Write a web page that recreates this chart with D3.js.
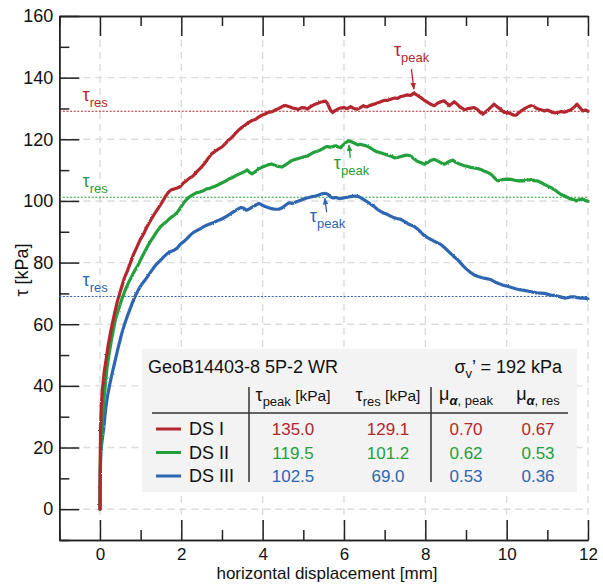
<!DOCTYPE html>
<html>
<head>
<meta charset="utf-8">
<script src="https://cdn.jsdelivr.net/npm/d3@7"></script>
<style>
  body { margin: 0; background: #fff; }
  svg { display: block; font-family: "Liberation Sans", Arial, Helvetica, sans-serif; }
</style>
</head>
<body>
<svg id="chart" width="603" height="584"></svg>
<script>
// ---- data ----
const seriesNames = ["DS I", "DS II", "DS III"];
const seriesColors = ["#b3272d", "#22a03b", "#2d66b1"];
const tauPeak = [135.0, 119.5, 102.5];
const tauRes = [129.1, 101.2, 69.0];
const muPeak = ["0.70", "0.62", "0.53"];
const muRes = ["0.67", "0.53", "0.36"];
const peakDisp = [7.72, 6.12, 5.53];
const sampleName = "GeoB14403-8 5P-2 WR";
const normalStress = "192 kPa";

const xMajorTicks = [0, 2, 4, 6, 8, 10, 12];
const xMinorTicks = [-1, 1, 3, 5, 7, 9, 11];
const yMajorTicks = [0, 20, 40, 60, 80, 100, 120, 140, 160];
const yMinorTicks = [-10, 10, 30, 50, 70, 90, 110, 130, 150];
const xGrid = [0, 2, 4, 6, 8, 10, 12];
const yGrid = [0, 20, 40, 60, 80, 100, 120, 140];

// [displacement mm, shear stress kPa]
const dsI = [
  [0,0],[0.003,8],[0.008,18],[0.015,26],[0.03,33],[0.06,39],[0.1,44],[0.15,48.5],[0.2,53],[0.27,58],
  [0.35,63],[0.43,67.5],[0.52,71.5],[0.6,75],[0.68,77.5],[0.75,80],[0.82,82.5],[0.9,84.8],[0.98,87.2],[1.07,89.2],
  [1.15,91.5],[1.25,93.8],[1.35,96.0],[1.45,98.0],[1.53,99.6],[1.6,101.2],[1.68,102.8],[1.75,103.6],[1.82,103.9],[1.9,104.2],
  [1.97,104.6],[2.05,105.8],[2.12,106.5],[2.2,107.4],[2.28,108.0],[2.35,109.0],[2.42,110.0],[2.5,111.0],[2.58,112.3],[2.66,113.8],
  [2.74,115.2],[2.82,116.0],[2.9,116.7],[3.0,117.5],[3.08,118.6],[3.16,119.7],[3.25,120.7],[3.33,121.9],[3.42,123.1],[3.5,124.0],
  [3.58,124.7],[3.66,125.5],[3.74,126.1],[3.82,126.4],[3.9,127.2],[3.98,127.8],[4.06,128.2],[4.15,128.8],[4.24,129.0],[4.32,129.6],
  [4.4,130.0],[4.48,130.6],[4.56,131.0],[4.64,130.6],[4.72,130.2],[4.8,130.0],[4.88,129.7],[4.96,130.3],[5.04,130.2],[5.1,129.8],
  [5.18,130.6],[5.26,131.2],[5.34,131.6],[5.42,132.0],[5.5,132.3],[5.55,132.4],[5.6,131.5],[5.66,129.6],[5.72,128.7],[5.78,129.3],
  [5.86,129.9],[5.94,130.2],[6.0,130.3],[6.08,129.9],[6.16,130.6],[6.24,130.0],[6.33,129.8],[6.4,130.3],[6.48,130.9],[6.56,130.5],
  [6.64,131.0],[6.74,131.4],[6.82,131.8],[6.9,132.2],[6.98,132.6],[7.06,132.6],[7.15,133.0],[7.24,133.4],[7.32,133.3],[7.4,133.9],
  [7.48,134.1],[7.56,134.4],[7.64,134.2],[7.72,135.0],[7.8,134.3],[7.88,133.6],[7.96,132.8],[8.02,132.3],[8.1,131.6],[8.16,131.2],
  [8.22,130.9],[8.3,131.7],[8.38,132.2],[8.46,132.5],[8.53,131.7],[8.59,130.9],[8.65,131.5],[8.71,132.2],[8.78,131.4],[8.86,130.4],
  [8.96,129.6],[9.04,129.9],[9.12,130.1],[9.2,130.3],[9.28,129.7],[9.36,128.6],[9.41,128.1],[9.48,128.8],[9.56,129.8],[9.63,130.6],
  [9.69,131.4],[9.76,130.6],[9.84,129.8],[9.94,128.7],[10.02,128.7],[10.1,128.3],[10.18,127.8],[10.23,127.8],[10.3,128.6],[10.38,129.4],
  [10.46,130.1],[10.54,130.6],[10.6,130.9],[10.68,130.5],[10.76,129.9],[10.84,129.6],[10.93,129.2],[11.0,129.5],[11.08,129.0],[11.16,128.6],
  [11.26,128.7],[11.34,129.0],[11.42,128.8],[11.5,129.2],[11.58,129.6],[11.66,130.4],[11.73,131.4],[11.8,130.3],[11.87,129.2],[11.94,129.5],
  [12.0,129.1]
];
const dsII = [
  [0,0],[0.004,8],[0.01,15],[0.02,20],[0.04,25],[0.07,31],[0.1,36],[0.14,41.5],[0.17,45.5],[0.22,50],
  [0.27,54],[0.32,57.5],[0.38,61.5],[0.45,64.5],[0.54,68.3],[0.62,71],[0.7,73.5],[0.78,75.5],[0.86,77.5],[0.94,79.3],
  [1.02,81.5],[1.1,83.5],[1.18,85.5],[1.26,87.3],[1.34,88.8],[1.42,90.5],[1.5,91.8],[1.58,92.7],[1.66,93.6],[1.74,94.6],
  [1.82,95.3],[1.9,96.3],[1.98,97.8],[2.06,99.4],[2.14,100.6],[2.22,101.5],[2.3,102.1],[2.38,102.7],[2.46,102.9],[2.54,103.3],
  [2.62,103.9],[2.7,104.1],[2.78,104.5],[2.86,104.9],[2.94,105.5],[3.02,106.0],[3.1,106.5],[3.18,107.2],[3.26,107.6],[3.34,108.2],
  [3.42,108.7],[3.5,109.2],[3.56,109.6],[3.62,110.1],[3.68,109.3],[3.74,108.8],[3.82,109.5],[3.9,110.4],[3.98,110.9],[4.06,111.3],
  [4.15,111.8],[4.22,112.0],[4.3,111.6],[4.38,111.2],[4.48,111.0],[4.56,111.7],[4.64,112.4],[4.7,113.0],[4.78,113.4],[4.86,113.7],
  [4.94,114.0],[5.02,114.3],[5.1,114.6],[5.18,115.2],[5.26,115.8],[5.34,116.1],[5.42,116.5],[5.5,117.1],[5.58,117.7],[5.66,117.4],
  [5.74,117.7],[5.8,117.9],[5.86,117.5],[5.92,117.3],[5.98,118.2],[6.05,119.0],[6.12,119.5],[6.18,119.2],[6.26,118.7],[6.34,118.2],
  [6.41,118.4],[6.48,118.1],[6.56,117.8],[6.64,117.3],[6.72,116.6],[6.8,116.0],[6.9,115.6],[6.99,115.2],[7.08,114.8],[7.16,114.5],
  [7.24,114.0],[7.32,114.1],[7.4,114.4],[7.48,114.7],[7.56,114.9],[7.64,114.6],[7.72,113.7],[7.8,112.9],[7.88,112.5],[7.97,111.9],
  [8.04,112.4],[8.12,113.0],[8.22,113.5],[8.3,113.0],[8.38,112.4],[8.46,111.9],[8.54,112.4],[8.6,112.9],[8.67,113.3],[8.74,112.6],
  [8.82,112.1],[8.9,111.7],[8.96,111.4],[9.04,111.2],[9.12,110.9],[9.2,110.7],[9.29,110.5],[9.38,110.1],[9.46,109.6],[9.54,109.2],
  [9.61,108.7],[9.68,107.8],[9.74,107.0],[9.78,106.5],[9.86,106.8],[9.94,107.0],[10.02,107.1],[10.11,107.0],[10.2,106.7],[10.28,106.5],
  [10.36,106.6],[10.43,106.5],[10.52,106.8],[10.6,106.9],[10.68,106.6],[10.76,106.5],[10.84,106.0],[10.92,105.4],[11.0,104.9],[11.09,104.3],
  [11.18,103.6],[11.26,102.8],[11.34,102.1],[11.42,101.6],[11.5,101.1],[11.58,100.6],[11.66,100.4],[11.71,100.0],[11.78,100.4],[11.86,100.6],
  [11.94,100.1],[12.0,99.9]
];
const dsIII = [
  [0,0],[0.004,7],[0.01,13],[0.02,18],[0.04,21],[0.07,24],[0.09,26],[0.12,30],[0.15,33.5],[0.19,37],
  [0.24,40.5],[0.29,43.5],[0.34,46.3],[0.39,49.2],[0.44,52.0],[0.49,54.6],[0.54,57.2],[0.6,59.8],[0.67,62.5],[0.74,65.0],
  [0.81,67.4],[0.88,69.5],[0.95,71.3],[1.02,72.8],[1.09,74.0],[1.16,75.3],[1.24,76.8],[1.32,78.3],[1.4,79.6],[1.49,80.8],
  [1.58,82.0],[1.66,83.0],[1.74,83.6],[1.82,84.0],[1.9,84.7],[1.98,86.0],[2.06,86.8],[2.14,87.8],[2.22,88.9],[2.3,89.8],
  [2.38,90.4],[2.46,90.9],[2.54,91.6],[2.62,92.1],[2.7,92.5],[2.78,92.9],[2.86,93.4],[2.94,93.8],[3.02,94.3],[3.1,94.9],
  [3.18,95.6],[3.25,96.2],[3.32,96.8],[3.4,97.4],[3.47,97.9],[3.54,97.6],[3.6,97.0],[3.66,97.3],[3.74,98.0],[3.82,98.6],
  [3.91,99.2],[3.98,98.7],[4.06,98.2],[4.15,97.8],[4.22,97.5],[4.3,97.3],[4.4,97.3],[4.48,97.8],[4.56,98.6],[4.65,99.4],
  [4.72,99.2],[4.8,99.6],[4.9,100.1],[4.98,100.5],[5.06,100.9],[5.14,101.1],[5.22,101.4],[5.3,101.6],[5.38,101.9],[5.46,102.3],
  [5.53,102.5],[5.6,102.2],[5.66,101.4],[5.72,101.0],[5.8,101.1],[5.88,100.8],[5.96,100.9],[6.04,101.1],[6.12,101.3],[6.2,101.5],
  [6.28,101.6],[6.36,101.4],[6.44,100.8],[6.52,100.2],[6.6,99.5],[6.66,98.9],[6.74,98.2],[6.82,97.3],[6.9,96.6],[6.98,96.1],
  [7.07,95.6],[7.14,95.1],[7.22,94.6],[7.3,94.3],[7.4,94.0],[7.48,93.4],[7.56,92.7],[7.64,92.2],[7.72,91.8],[7.8,91.0],
  [7.88,90.0],[7.96,88.9],[8.05,88.1],[8.14,87.5],[8.22,86.9],[8.3,86.4],[8.38,85.9],[8.46,85.0],[8.54,84.0],[8.62,83.0],
  [8.7,82.0],[8.79,81.0],[8.86,80.0],[8.94,78.8],[9.02,77.8],[9.12,76.7],[9.2,76.0],[9.3,75.5],[9.4,75.1],[9.5,74.8],
  [9.61,74.5],[9.7,73.8],[9.8,73.2],[9.9,72.7],[10.02,72.3],[10.12,71.9],[10.22,71.5],[10.32,71.2],[10.43,71.0],[10.54,70.7],
  [10.64,70.4],[10.74,70.2],[10.84,70.1],[10.93,70.0],[11.02,69.7],[11.1,69.4],[11.18,69.4],[11.26,69.1],[11.34,68.8],[11.42,68.5],
  [11.5,68.6],[11.58,68.9],[11.66,68.9],[11.74,68.6],[11.82,68.5],[11.9,68.5],[11.96,68.3],[12.0,68.2]
];
const seriesData = [dsI, dsII, dsIII];

// ---- layout ----
const svg = d3.select("#chart");
const plotLeft = 59.3, plotRight = 588, plotTop = 16, plotBottom = 540;
const x = d3.scaleLinear().domain([-1, 12]).range([plotLeft, plotRight]);
const y = d3.scaleLinear().domain([-10, 160]).range([plotBottom, plotTop]);
const axisColor = "#222";
const gridColor = "#dcdcdc";

// slight roughness for the measured traces
const defs = svg.append("defs");
const rough = defs.append("filter").attr("id", "rough")
  .attr("filterUnits", "userSpaceOnUse").attr("x", 0).attr("y", 0).attr("width", 603).attr("height", 584);
rough.append("feTurbulence").attr("type", "fractalNoise").attr("baseFrequency", 0.7)
  .attr("numOctaves", 1).attr("seed", 3).attr("result", "noise");
rough.append("feDisplacementMap").attr("in", "SourceGraphic").attr("in2", "noise")
  .attr("scale", 2.2).attr("xChannelSelector", "R").attr("yChannelSelector", "G");

// grid
const grid = svg.append("g");
grid.selectAll("line.gx").data(xGrid).join("line").attr("class", "gx")
  .attr("x1", d => x(d)).attr("x2", d => x(d)).attr("y1", plotTop).attr("y2", plotBottom)
  .attr("stroke", gridColor).attr("stroke-width", 1.4).attr("stroke-dasharray", "7,5");
grid.selectAll("line.gy").data(yGrid).join("line").attr("class", "gy")
  .attr("x1", plotLeft).attr("x2", plotRight).attr("y1", d => y(d)).attr("y2", d => y(d))
  .attr("stroke", gridColor).attr("stroke-width", 1.4).attr("stroke-dasharray", "7,5");

// axes
function styleAxis(g, size) {
  g.selectAll("path.domain").attr("stroke", axisColor).attr("stroke-width", 1.5);
  g.selectAll(".tick line").attr("stroke", axisColor).attr("stroke-width", 1.5);
  g.selectAll(".tick text").attr("fill", "#111").attr("font-size", size || 18)
    .attr("font-family", "'Liberation Sans', Arial, sans-serif");
}
svg.append("g").attr("transform", `translate(${plotLeft},0)`)
  .call(d3.axisLeft(y).tickValues(yMinorTicks).tickSize(-10).tickSizeOuter(0).tickFormat(""))
  .call(styleAxis);
svg.append("g").attr("transform", `translate(${plotLeft},0)`)
  .call(d3.axisLeft(y).tickValues(yMajorTicks).tickSize(-20).tickSizeOuter(0).tickPadding(6).tickFormat(d3.format("d")))
  .call(g => styleAxis(g, 18));
svg.append("g").attr("transform", `translate(0,${plotBottom})`)
  .call(d3.axisBottom(x).tickValues(xMinorTicks).tickSize(-10).tickSizeOuter(0).tickFormat(""))
  .call(styleAxis);
svg.append("g").attr("transform", `translate(0,${plotBottom})`)
  .call(d3.axisBottom(x).tickValues(xMajorTicks).tickSize(-20).tickSizeOuter(0).tickPadding(8).tickFormat(d3.format("d")))
  .call(g => styleAxis(g, 17));
svg.append("g").attr("transform", `translate(0,${plotTop})`)
  .call(d3.axisTop(x).tickValues(xMinorTicks).tickSize(-10).tickSizeOuter(0).tickFormat(""))
  .call(styleAxis);
svg.append("g").attr("transform", `translate(0,${plotTop})`)
  .call(d3.axisTop(x).tickValues(xMajorTicks).tickSize(-20).tickSizeOuter(0).tickFormat(""))
  .call(styleAxis);

// axis titles
svg.append("text").attr("x", 327).attr("y", 579)
  .attr("text-anchor", "middle").attr("font-size", 17).attr("fill", "#111")
  .text("horizontal displacement [mm]");
svg.append("text").attr("transform", "translate(28,270) rotate(-90)")
  .attr("text-anchor", "middle").attr("font-size", 18).attr("fill", "#111")
  .text("τ [kPa]");

// rich text helper: parts = [{t, size, dy, weight, style}]
function richText(parent, px, py, parts, anchor, color) {
  const t = parent.append("text").attr("x", px).attr("y", py)
    .attr("text-anchor", anchor).attr("fill", color);
  parts.forEach(p => {
    const s = t.append("tspan").attr("font-size", p.size).text(p.t);
    if (p.dy) s.attr("dy", p.dy);
    if (p.weight) s.attr("font-weight", p.weight);
    if (p.style) s.attr("font-style", p.style);
  });
  return t;
}

// residual strength levels
tauRes.forEach((v, i) => {
  svg.append("line").attr("x1", plotLeft).attr("x2", plotRight).attr("y1", y(v)).attr("y2", y(v))
    .attr("stroke", seriesColors[i]).attr("stroke-width", 1.2).attr("stroke-dasharray", "2,1.6");
  richText(svg, 82.5, y(v) - 10.5, [
    { t: "τ", size: 18 },
    { t: "res", size: 13, dy: 6.5 }
  ], "start", seriesColors[i]);
});

// shear stress curves
const line = d3.line().x(d => x(d[0])).y(d => y(d[1]));
const curves = svg.append("g").attr("filter", "url(#rough)");
[2, 1, 0].forEach(i => {
  curves.append("path").datum(seriesData[i]).attr("d", line)
    .attr("fill", "none").attr("stroke", seriesColors[i]).attr("stroke-width", 3.2)
    .attr("stroke-linejoin", "round").attr("stroke-linecap", "round");
});

// peak annotations
seriesColors.forEach((c, i) => {
  defs.append("marker").attr("id", "ah" + i).attr("viewBox", "0 0 10 10")
    .attr("refX", 9).attr("refY", 5).attr("markerWidth", 7).attr("markerHeight", 7)
    .attr("markerUnits", "userSpaceOnUse").attr("orient", "auto")
    .append("path").attr("d", "M0,1 L10,5 L0,9 z").attr("fill", c);
});
const peakLayout = [
  { x1: -2.5, y1: -24, y2: -4, lx: -20, ly: -37 },
  { x1: 1.5, y1: 17, y2: 4, lx: -15, ly: 28.5 },
  { x1: 1.8, y1: 19, y2: 5, lx: -15, ly: 28.5 }
];
tauPeak.forEach((v, i) => {
  const px = x(peakDisp[i]), py = y(v), L = peakLayout[i];
  svg.append("line").attr("x1", px + L.x1).attr("y1", py + L.y1).attr("x2", px).attr("y2", py + L.y2)
    .attr("stroke", seriesColors[i]).attr("stroke-width", 1.3).attr("marker-end", `url(#ah${i})`);
  richText(svg, px + L.lx, py + L.ly, [
    { t: "τ", size: 18 },
    { t: "peak", size: 13, dy: 6 }
  ], "start", seriesColors[i]);
});

// summary table
const tbl = svg.append("g");
tbl.append("rect").attr("x", 142).attr("y", 349).attr("width", 435).attr("height", 143).attr("fill", "#f3f3f3");
tbl.append("text").attr("x", 148).attr("y", 373).attr("font-size", 18).attr("fill", "#111").text(sampleName);
richText(tbl, 562, 373, [
  { t: "σ", size: 18 },
  { t: "v", size: 13, dy: 5 },
  { t: "’ = " + normalStress, size: 18, dy: -5 }
], "end", "#111");
const cols = [293, 388, 466, 538];
richText(tbl, cols[0], 401, [{ t: "τ", size: 18 }, { t: "peak", size: 13, dy: 5 }, { t: " [kPa]", size: 15.5, dy: -5 }], "middle", "#111");
richText(tbl, cols[1], 401, [{ t: "τ", size: 18 }, { t: "res", size: 13, dy: 5 }, { t: " [kPa]", size: 15.5, dy: -5 }], "middle", "#111");
richText(tbl, cols[2], 400, [{ t: "μ", size: 18 }, { t: "α", size: 13, dy: 5, weight: "bold", style: "italic" }, { t: ", peak", size: 13 }], "middle", "#111");
richText(tbl, cols[3], 400, [{ t: "μ", size: 18 }, { t: "α", size: 13, dy: 5, weight: "bold", style: "italic" }, { t: ", res", size: 13 }], "middle", "#111");
tbl.append("line").attr("x1", 152).attr("x2", 568).attr("y1", 413).attr("y2", 413).attr("stroke", "#333").attr("stroke-width", 1.5);
[249, 431].forEach(vx => {
  tbl.append("line").attr("x1", vx).attr("x2", vx).attr("y1", 387).attr("y2", 482).attr("stroke", "#333").attr("stroke-width", 1.5);
});
const rowY = [435, 458.5, 482];
seriesNames.forEach((n, i) => {
  const ry = rowY[i];
  tbl.append("line").attr("x1", 156).attr("x2", 181).attr("y1", ry - 6).attr("y2", ry - 6)
    .attr("stroke", seriesColors[i]).attr("stroke-width", 3);
  tbl.append("text").attr("x", 189).attr("y", ry).attr("font-size", 18).attr("fill", "#111").text(n);
  [tauPeak[i].toFixed(1), tauRes[i].toFixed(1), muPeak[i], muRes[i]].forEach((val, j) => {
    tbl.append("text").attr("x", cols[j]).attr("y", ry).attr("text-anchor", "middle")
      .attr("font-size", 17).attr("fill", seriesColors[i]).text(val);
  });
});
</script>
</body>
</html>
